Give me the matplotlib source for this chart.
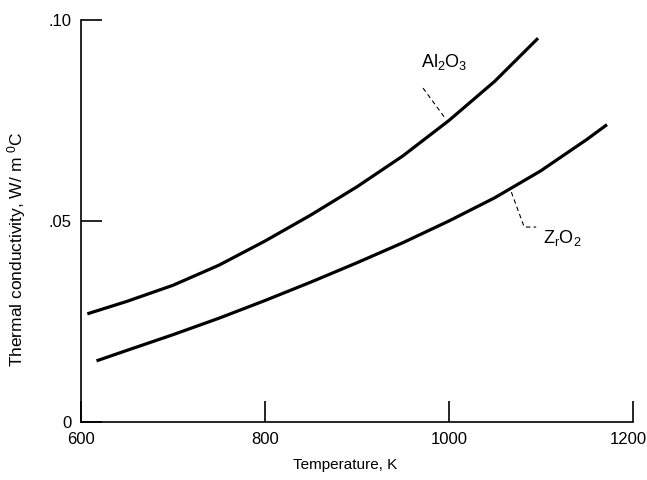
import matplotlib
matplotlib.use("Agg")
import matplotlib.pyplot as plt
import matplotlib.transforms as mtransforms

# Data
al2o3_temp = [607, 650, 700, 750, 800, 850, 900, 950, 1000, 1050, 1097]
al2o3_k = [0.0269, 0.0300, 0.0340, 0.0390, 0.0450, 0.0515, 0.0585, 0.0662, 0.0750, 0.0848, 0.0955]

zro2_temp = [617, 650, 700, 750, 800, 850, 900, 950, 1000, 1050, 1100, 1150, 1172]
zro2_k = [0.0152, 0.0178, 0.0217, 0.0258, 0.0302, 0.0348, 0.0396, 0.0446, 0.0500, 0.0558, 0.0625, 0.0703, 0.0740]

x_ticks = [600, 800, 1000, 1200]
x_tick_labels = ["600", "800", "1000", "1200"]
y_ticks = [0, 0.05, 0.10]
y_tick_labels = ["0", ".05", ".10"]

plt.rcParams['font.family'] = ['Liberation Sans', 'DejaVu Sans']
plt.rcParams['mathtext.default'] = 'regular'

fig = plt.figure(figsize=(6.47, 4.80), dpi=100)
ax = fig.add_axes([0.125, 0.121, 0.853, 0.837])

ax.plot(al2o3_temp, al2o3_k, color='black', lw=2.3, solid_capstyle='butt')
ax.plot(zro2_temp, zro2_k, color='black', lw=2.3, solid_capstyle='butt')

ax.set_xlim(600, 1200)
ax.set_ylim(0, 0.10)
ax.spines['top'].set_visible(False)
ax.spines['right'].set_visible(False)
for s in ['left', 'bottom']:
    ax.spines[s].set_linewidth(1.2)

ax.set_xticks(x_ticks)
ax.set_xticklabels(x_tick_labels)
ax.set_yticks(y_ticks)
ax.set_yticklabels(y_tick_labels)
ax.tick_params(axis='both', direction='in', length=15, width=1.2, labelsize=12, pad=7)

# nudge the last x label so it stays inside the picture
last = ax.get_xticklabels()[-1]
last.set_transform(last.get_transform() + mtransforms.ScaledTranslation(-4 / 100, 0, fig.dpi_scale_trans))

ax.set_xlabel("Temperature, K", fontsize=11)
ax.xaxis.set_label_coords(0.478, -0.09)
ax.set_ylabel("Thermal conductivity, W/ m $^0$C", fontsize=12.5)
ax.yaxis.set_label_coords(-0.095, 0.43)

# Curve labels with leader lines
ax.annotate("Al$_2$O$_3$", xy=(996, 0.0756), xytext=(995, 0.0895),
            fontsize=13, ha='center', va='center')
ax.plot([972, 996], [0.0831, 0.0756], color='black', lw=0.8, ls=(0, (4, 3)))
ax.plot([1068, 1082, 1095], [0.0572, 0.0485, 0.0485], color='black', lw=0.8, ls=(0, (4, 3)))
ax.text(1102, 0.0458, "Z$_r$O$_2$", fontsize=13, ha='left', va='center')

fig.savefig("out.png", dpi=100)
